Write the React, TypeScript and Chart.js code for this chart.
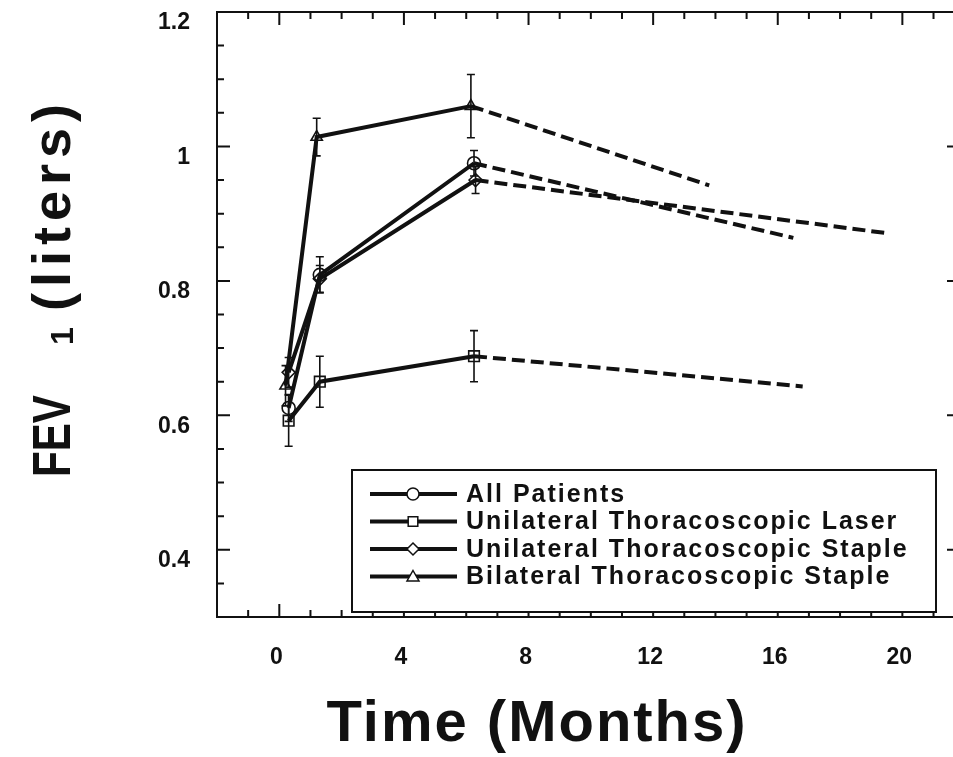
import React, { useEffect, useRef } from 'react';
import { Chart, registerables } from 'chart.js';

Chart.register(...registerables);

// ---- data ----
const seriesLabels = [
  'All Patients',
  'Unilateral Thoracoscopic Laser',
  'Unilateral Thoracoscopic Staple',
  'Bilateral Thoracoscopic Staple',
];
const seriesMarkers = ['circle', 'rect', 'rectRot', 'triangle'];

const allMonths = [0.3, 1.3, 6.25, 16.5];
const allFev = [0.611, 0.809, 0.975, 0.864];
const allErr = [0.02, 0.027, 0.019, 0];

const laserMonths = [0.3, 1.3, 6.25, 16.8];
const laserFev = [0.592, 0.65, 0.688, 0.643];
const laserErr = [0.038, 0.038, 0.038, 0];

const uniStapleMonths = [0.3, 1.3, 6.3, 19.5];
const uniStapleFev = [0.664, 0.803, 0.95, 0.871];
const uniStapleErr = [0.022, 0.02, 0.02, 0];

const biStapleMonths = [0.2, 1.2, 6.15, 13.8];
const biStapleFev = [0.644, 1.014, 1.06, 0.942];
const biStapleErr = [0.03, 0.028, 0.047, 0];

const seriesMonths = [allMonths, laserMonths, uniStapleMonths, biStapleMonths];
const seriesFev = [allFev, laserFev, uniStapleFev, biStapleFev];
const seriesErr = [allErr, laserErr, uniStapleErr, biStapleErr];

const xTickLabels = [0, 4, 8, 12, 16, 20];
const yTickLabels = [0.4, 0.6, 0.8, 1, 1.2];
const xMinorTicks = [-1, 0, 1, 2, 3, 4, 5, 6, 7, 8, 9, 10, 11, 12, 13, 14, 15, 16, 17, 18, 19, 20, 21];
const yMinorTicks = [0.35, 0.4, 0.45, 0.5, 0.55, 0.6, 0.65, 0.7, 0.75, 0.8, 0.85, 0.9, 0.95, 1, 1.05, 1.1, 1.15];

const xTitle = 'Time (Months)';
const yTitleMain = 'FEV';
const yTitleSub = '1';
const yTitleUnit = '(liters)';

const INK = '#111';
const FONT = '"Liberation Sans", Arial, Helvetica, sans-serif';

function drawMarker(ctx: CanvasRenderingContext2D, style: string, x: number, y: number, r: number) {
  ctx.beginPath();
  if (style === 'circle') {
    ctx.arc(x, y, r, 0, Math.PI * 2);
  } else if (style === 'rect') {
    const s = r * 0.8;
    ctx.rect(x - s, y - s, 2 * s, 2 * s);
  } else if (style === 'rectRot') {
    ctx.moveTo(x, y - r);
    ctx.lineTo(x + r, y);
    ctx.lineTo(x, y + r);
    ctx.lineTo(x - r, y);
    ctx.closePath();
  } else {
    ctx.moveTo(x, y - r);
    ctx.lineTo(x + r, y + r * 0.75);
    ctx.lineTo(x - r, y + r * 0.75);
    ctx.closePath();
  }
  ctx.fillStyle = '#fff';
  ctx.fill();
  ctx.stroke();
}

const framePlugin = {
  id: 'frame',
  afterDraw(chart: any) {
    const { ctx, chartArea } = chart;
    const { left, right, top, bottom } = chartArea;
    const xs = chart.scales.x;
    const ys = chart.scales.y;
    ctx.save();
    ctx.strokeStyle = INK;
    ctx.lineWidth = 2;
    ctx.strokeRect(left, top, right - left, bottom - top);
    ctx.beginPath();
    xMinorTicks.forEach((m) => {
      const px = xs.getPixelForValue(m);
      const len = xTickLabels.includes(m) ? 13 : 7;
      ctx.moveTo(px, bottom);
      ctx.lineTo(px, bottom - len);
      ctx.moveTo(px, top);
      ctx.lineTo(px, top + len);
    });
    yMinorTicks.forEach((v) => {
      const py = ys.getPixelForValue(v);
      const len = yTickLabels.some((t) => Math.abs(t - v) < 1e-6) ? 13 : 7;
      ctx.moveTo(left, py);
      ctx.lineTo(left + len, py);
      ctx.moveTo(right, py);
      ctx.lineTo(right - len, py);
    });
    ctx.stroke();

    // titles
    ctx.fillStyle = INK;
    ctx.textBaseline = 'alphabetic';
    ctx.textAlign = 'center';
    ctx.font = `bold 58px ${FONT}`;
    (ctx as any).letterSpacing = '2px';
    ctx.fillText(xTitle, 537, 741);

    ctx.translate(70, 477);
    ctx.rotate(-Math.PI / 2);
    ctx.textAlign = 'left';
    (ctx as any).letterSpacing = '0px';
    ctx.font = `bold 54px ${FONT}`;
    ctx.save();
    ctx.scale(0.78, 1);
    ctx.fillText(yTitleMain, 0, 0);
    ctx.restore();
    ctx.font = `bold 32px ${FONT}`;
    ctx.fillText(yTitleSub, 132, 3);
    ctx.font = `bold 54px ${FONT}`;
    (ctx as any).letterSpacing = '6px';
    ctx.fillText(yTitleUnit, 166, 0);
    ctx.restore();
  },
};

const errorBarPlugin = {
  id: 'errorBars',
  afterDatasetsDraw(chart: any) {
    const { ctx } = chart;
    const xs = chart.scales.x;
    const ys = chart.scales.y;
    ctx.save();
    ctx.strokeStyle = INK;
    ctx.lineWidth = 1.6;
    seriesErr.forEach((errs, i) => {
      errs.forEach((e, j) => {
        if (!e) return;
        const px = xs.getPixelForValue(seriesMonths[i][j]);
        const y1 = ys.getPixelForValue(seriesFev[i][j] + e);
        const y2 = ys.getPixelForValue(seriesFev[i][j] - e);
        ctx.beginPath();
        ctx.moveTo(px, y1);
        ctx.lineTo(px, y2);
        ctx.moveTo(px - 4, y1);
        ctx.lineTo(px + 4, y1);
        ctx.moveTo(px - 4, y2);
        ctx.lineTo(px + 4, y2);
        ctx.stroke();
      });
    });
    ctx.restore();
  },
};

const legendPlugin = {
  id: 'boxLegend',
  afterDraw(chart: any) {
    const { ctx } = chart;
    const bx = 352, by = 470, bw = 584, bh = 142;
    ctx.save();
    ctx.fillStyle = '#fff';
    ctx.fillRect(bx, by, bw, bh);
    ctx.strokeStyle = INK;
    ctx.lineWidth = 2;
    ctx.strokeRect(bx, by, bw, bh);
    seriesLabels.forEach((label, i) => {
      const cy = 494 + i * 27.5;
      ctx.lineWidth = 4;
      ctx.beginPath();
      ctx.moveTo(370, cy);
      ctx.lineTo(457, cy);
      ctx.stroke();
      ctx.lineWidth = 1.5;
      drawMarker(ctx, seriesMarkers[i], 413, cy, 6);
      ctx.fillStyle = INK;
      ctx.font = `bold 25px ${FONT}`;
      (ctx as any).letterSpacing = '2px';
      ctx.textAlign = 'left';
      ctx.textBaseline = 'middle';
      ctx.fillText(label, 466, cy + 1);
    });
    ctx.restore();
  },
};

export default function App() {
  const canvasRef = useRef<HTMLCanvasElement | null>(null);

  useEffect(() => {
    const canvas = canvasRef.current;
    if (!canvas) return;
    const datasets = seriesLabels.map((label, i) => ({
      label,
      data: seriesMonths[i].map((m, j) => ({ x: m, y: seriesFev[i][j] })),
      borderColor: INK,
      borderWidth: 4,
      pointStyle: seriesMarkers[i],
      pointRadius: seriesMonths[i].map((_, j) =>
        j === seriesMonths[i].length - 1 ? 0 : seriesMarkers[i] === 'rect' ? 7.5 : 6.5
      ),
      pointBorderWidth: 1.6,
      pointBorderColor: INK,
      pointBackgroundColor: 'rgba(255,255,255,0)',
      tension: 0,
      fill: false,
      segment: {
        borderDash: (ctx: any) => (ctx.p1DataIndex === seriesMonths[i].length - 1 ? [13, 6] : undefined),
      },
    }));

    const chart = new Chart(canvas, {
      type: 'line',
      data: { datasets },
      options: {
        animation: false,
        responsive: false,
        devicePixelRatio: 1,
        layout: { padding: { left: 0, right: 10, top: 12, bottom: 0 } },
        plugins: { legend: { display: false }, tooltip: { enabled: false }, title: { display: false } },
        scales: {
          x: {
            type: 'linear',
            min: -2,
            max: 21.85,
            grid: { display: false, drawTicks: false },
            border: { display: false },
            afterFit: (scale: any) => {
              scale.height = 140;
              scale.paddingLeft = 0;
              scale.paddingRight = 0;
              scale.paddingTop = 0;
              scale.paddingBottom = 0;
            },
            afterBuildTicks: (scale: any) => { scale.ticks = xTickLabels.map((v) => ({ value: v })); },
            ticks: {
              padding: 27,
              labelOffset: -3,
              color: INK,
              font: { family: FONT, weight: 'bold', size: 23 },
              callback: (v: any) => String(v),
            },
          },
          y: {
            type: 'linear',
            min: 0.3,
            max: 1.2,
            grid: { display: false, drawTicks: false },
            border: { display: false },
            afterFit: (scale: any) => {
              scale.width = 217;
              scale.paddingLeft = 0;
              scale.paddingRight = 0;
              scale.paddingTop = 0;
              scale.paddingBottom = 0;
            },
            afterBuildTicks: (scale: any) => { scale.ticks = yTickLabels.map((v) => ({ value: v })); },
            ticks: {
              padding: 27,
              labelOffset: 11,
              color: INK,
              font: { family: FONT, weight: 'bold', size: 23 },
              callback: (v: any) => String(Number(Number(v).toFixed(2))),
            },
          },
        },
      },
      plugins: [errorBarPlugin, framePlugin, legendPlugin],
    } as any);
    return () => chart.destroy();
  }, []);

  return (
    <div style={{ position: 'fixed', left: 0, top: 0, width: 953, height: 757, overflow: 'hidden', background: '#fff' }}>
      <canvas ref={canvasRef} width={970} height={757} style={{ display: 'block', width: 970, height: 757 }} />
    </div>
  );
}
